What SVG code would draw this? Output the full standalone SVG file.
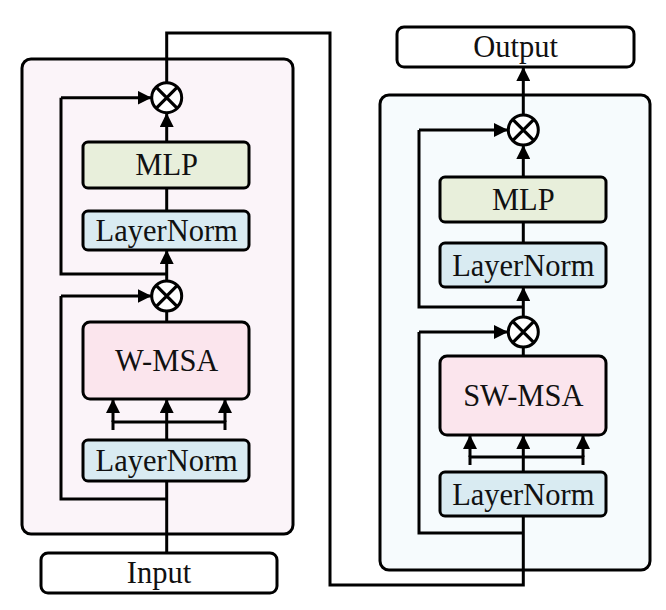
<svg xmlns="http://www.w3.org/2000/svg" width="666" height="610" viewBox="0 0 666 610">
<defs>
<marker id="ah" markerUnits="userSpaceOnUse" markerWidth="14" markerHeight="14" refX="14" refY="7" orient="auto">
<path d="M0,0 L14,7 L0,14 z" fill="#000"/>
</marker>
<style>
.panel{stroke:#000;stroke-width:3}
.box{stroke:#000;stroke-width:3}
.ln{fill:#d9ebf2}
.mlp{fill:#e8efdb}
.msa{fill:#fbe5ed}
.io{fill:#fff}
.t{font-family:"Liberation Serif","Times New Roman",serif;font-size:30.5px;text-anchor:middle;fill:#111}
.c{fill:none;stroke:#000;stroke-width:3;stroke-linejoin:miter}
.a{marker-end:url(#ah)}
.op{fill:#fff;stroke:#000;stroke-width:3}
.x{stroke:#000;stroke-width:3.2}
</style>
</defs>
<rect width="666" height="610" fill="#fff"/>
<g id="panel-left"><rect class="panel" x="22" y="59" width="271" height="475" rx="9" fill="#fbf4f9"/></g>
<g id="panel-right"><rect class="panel" x="380" y="95" width="270" height="475" rx="9" fill="#f6fbfd"/></g>

<g id="connectors">
<path class="c" d="M166.7,553 V428"/>
<path class="c" d="M113,430 V422 H225 V430"/>
<path class="c a" d="M113,422 V399"/>
<path class="c a" d="M166.7,428 V399"/>
<path class="c a" d="M225,422 V399"/>
<path class="c" d="M166.7,322 V311"/>
<path class="c" d="M166.7,499 H61 V296"/>
<path class="c a" d="M61,296 H151.5"/>
<path class="c a" d="M166.7,281 V250"/>
<path class="c" d="M166.7,274 H61 V97.7"/>
<path class="c a" d="M61,97.7 H151.5"/>
<path class="c" d="M166.7,211 V188"/>
<path class="c a" d="M166.7,142 V113"/>
<path class="c" d="M166.7,82.7 V33 H330 V585 H523.3 V516"/>
<path class="c" d="M470,465 V457 H583 V465"/>
<path class="c a" d="M470,457 V435"/>
<path class="c a" d="M523.3,472 V435"/>
<path class="c a" d="M583,457 V435"/>
<path class="c" d="M523.3,356 V347"/>
<path class="c" d="M523.3,533 H419 V332"/>
<path class="c a" d="M419,332 H508"/>
<path class="c a" d="M523.3,317 V287"/>
<path class="c" d="M523.3,307 H419 V130"/>
<path class="c a" d="M419,130 H508"/>
<path class="c" d="M523.3,243 V222"/>
<path class="c a" d="M523.3,177 V145"/>
<path class="c a" d="M523.3,115 V67"/>
</g>

<g id="input"><rect class="box io" x="41" y="553" width="236" height="40" rx="7"/><text class="t" x="159" y="583">Input</text></g>
<g id="layernorm-l1"><rect class="box ln" x="83" y="440" width="166" height="41" rx="5"/><text class="t" x="166.7" y="471">LayerNorm</text></g>
<g id="wmsa"><rect class="box msa" x="83" y="322" width="166" height="77" rx="7"/><text class="t" x="166.7" y="371">W-MSA</text></g>
<g id="add-l1"><circle class="op" cx="166.7" cy="296" r="15"/><path class="x" d="M156.1,285.4 L177.3,306.6 M177.3,285.4 L156.1,306.6"/></g>
<g id="layernorm-l2"><rect class="box ln" x="83" y="211" width="166" height="39" rx="5"/><text class="t" x="166.7" y="241">LayerNorm</text></g>
<g id="mlp-l"><rect class="box mlp" x="83" y="142" width="166" height="46" rx="5"/><text class="t" x="166.7" y="175">MLP</text></g>
<g id="add-l2"><circle class="op" cx="166.7" cy="97.7" r="15"/><path class="x" d="M156.1,87.1 L177.3,108.3 M177.3,87.1 L156.1,108.3"/></g>

<g id="layernorm-r1"><rect class="box ln" x="440" y="472" width="166" height="44" rx="5"/><text class="t" x="523.3" y="505">LayerNorm</text></g>
<g id="swmsa"><rect class="box msa" x="440" y="356" width="166" height="79" rx="7"/><text class="t" x="523.3" y="406">SW-MSA</text></g>
<g id="add-r1"><circle class="op" cx="523.3" cy="332" r="15"/><path class="x" d="M512.7,321.4 L533.9,342.6 M533.9,321.4 L512.7,342.6"/></g>
<g id="layernorm-r2"><rect class="box ln" x="440" y="243" width="166" height="44" rx="5"/><text class="t" x="523.3" y="276">LayerNorm</text></g>
<g id="mlp-r"><rect class="box mlp" x="440" y="177" width="166" height="45" rx="5"/><text class="t" x="523.3" y="210">MLP</text></g>
<g id="add-r2"><circle class="op" cx="523.3" cy="130" r="15"/><path class="x" d="M512.7,119.4 L533.9,140.6 M533.9,119.4 L512.7,140.6"/></g>
<g id="output"><rect class="box io" x="397" y="27" width="237" height="40" rx="7"/><text class="t" x="515.5" y="57">Output</text></g>
</svg>
